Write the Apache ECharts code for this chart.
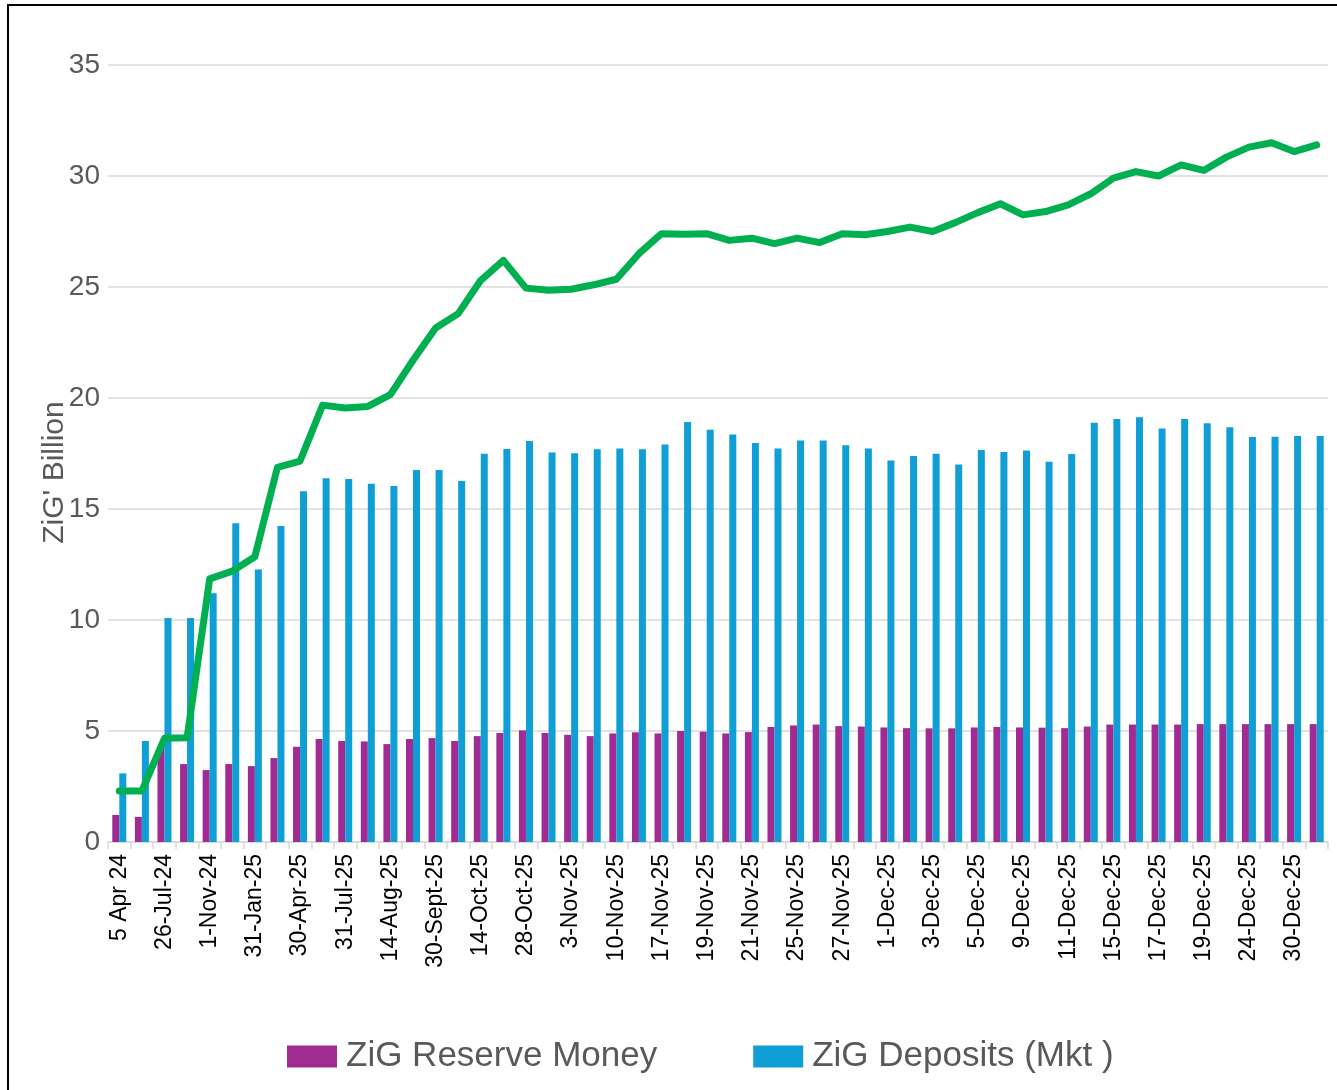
<!DOCTYPE html>
<html>
<head>
<meta charset="utf-8">
<title>ZiG Reserve Money and Deposits</title>
<script src="https://cdn.jsdelivr.net/npm/echarts@6/dist/echarts.min.js"></script>
<style>
  html, body { margin: 0; padding: 0; background: #fff; overflow: hidden; }
  #frame { position: absolute; left: 7px; top: 4px; width: 1340px; height: 1100px; border: 2px solid #000; box-sizing: border-box; }
  #chart { position: absolute; left: 0; top: 0; width: 1337px; height: 1090px; }
</style>
</head>
<body>
<div id="frame"></div>
<div id="chart"></div>
<script>
// dates on the category axis (only every second one is labelled in the source)
var dates = [
  '5 Apr 24', '28-Jun-24', '26-Jul-24', '27-Sep-24', '1-Nov-24', '31-Dec-24',
  '31-Jan-25', '31-Mar-25', '30-Apr-25', '30-Jun-25', '31-Jul-25', '7-Aug-25',
  '14-Aug-25', '15-Sept-25', '30-Sept-25', '7-Oct-25', '14-Oct-25', '21-Oct-25',
  '28-Oct-25', '31-Oct-25', '3-Nov-25', '6-Nov-25', '10-Nov-25', '13-Nov-25',
  '17-Nov-25', '18-Nov-25', '19-Nov-25', '20-Nov-25', '21-Nov-25', '24-Nov-25',
  '25-Nov-25', '26-Nov-25', '27-Nov-25', '28-Nov-25', '1-Dec-25', '2-Dec-25',
  '3-Dec-25', '4-Dec-25', '5-Dec-25', '8-Dec-25', '9-Dec-25', '10-Dec-25',
  '11-Dec-25', '12-Dec-25', '15-Dec-25', '16-Dec-25', '17-Dec-25', '18-Dec-25',
  '19-Dec-25', '23-Dec-25', '24-Dec-25', '29-Dec-25', '30-Dec-25', '31-Dec-25'
]

var reserveMoney = [
  1.22, 1.13, 4.3, 3.51, 3.24, 3.51, 3.42, 3.78, 4.29, 4.64,
  4.55, 4.53, 4.41, 4.64, 4.68, 4.55, 4.77, 4.91, 5.03, 4.91,
  4.83, 4.77, 4.89, 4.94, 4.89, 5.0, 4.97, 4.89, 4.95, 5.18,
  5.25, 5.29, 5.22, 5.2, 5.16, 5.13, 5.12, 5.12, 5.16, 5.18,
  5.16, 5.15, 5.13, 5.2, 5.29, 5.29, 5.29, 5.29, 5.31, 5.31,
  5.31, 5.31, 5.31, 5.31
]

var deposits = [
  3.09, 4.55, 10.09, 10.09, 11.2, 14.36, 12.28, 14.23, 15.8, 16.38,
  16.35, 16.14, 16.04, 16.76, 16.76, 16.26, 17.49, 17.7, 18.06, 17.54,
  17.51, 17.69, 17.73, 17.69, 17.91, 18.92, 18.57, 18.36, 17.97, 17.73,
  18.09, 18.09, 17.87, 17.72, 17.19, 17.39, 17.49, 17.01, 17.66, 17.57,
  17.64, 17.13, 17.48, 18.89, 19.05, 19.13, 18.63, 19.05, 18.86, 18.68,
  18.24, 18.26, 18.29, 18.29
]

// green line, no legend entry in the source
var totalLine = [
  2.3, 2.3, 4.67, 4.7, 11.85, 12.2, 12.85, 16.88, 17.16, 19.68,
  19.55, 19.62, 20.15, 21.7, 23.15, 23.8, 25.3, 26.2, 24.95, 24.85,
  24.9, 25.1, 25.35, 26.5, 27.4, 27.38, 27.4, 27.1, 27.2, 26.95,
  27.2, 27.0, 27.4, 27.35, 27.5, 27.7, 27.5, 27.9, 28.35, 28.75,
  28.25, 28.4, 28.7, 29.2, 29.9, 30.2, 30.0, 30.5, 30.25, 30.85,
  31.3, 31.5, 31.1, 31.4
]

var chart = echarts.init(document.getElementById('chart'))

var option = {
  animation: false,
  grid: {
    left: 108,
    right: 9,
    top: 65,
    bottom: 248
  },
  legend: {
    data: ['ZiG Reserve Money', 'ZiG Deposits (Mkt )'],
    left: 282,
    top: 1034,
    itemWidth: 50,
    itemHeight: 22,
    itemGap: 96,
    icon: 'rect',
    textStyle: {
      fontFamily: 'Liberation Sans',
      fontSize: 35,
      color: '#595959',
      padding: [0, 0, 0, 4]
    }
  },
  xAxis: {
    type: 'category',
    data: dates,
    axisLine: {
      lineStyle: { color: '#d9d9d9', width: 1.5 }
    },
    axisTick: {
      show: true,
      interval: 0,
      length: 7,
      lineStyle: { color: '#d9d9d9', width: 1.5 }
    },
    axisLabel: {
      interval: 1,
      rotate: 90,
      margin: 12,
      color: '#000',
      fontFamily: 'Liberation Sans',
      fontSize: 23
    }
  },
  yAxis: {
    type: 'value',
    min: 0,
    max: 35,
    interval: 5,
    name: "ZiG' Billion",
    nameLocation: 'middle',
    nameGap: 38,
    nameMoveOverlap: false,
    nameTextStyle: {
      fontFamily: 'Liberation Sans',
      fontSize: 30,
      color: '#595959',
      padding: [0, 0, 0, -38]
    },
    axisLine: { show: false },
    axisTick: { show: false },
    axisLabel: {
      margin: 8,
      color: '#595959',
      fontFamily: 'Liberation Sans',
      fontSize: 28
    },
    splitLine: {
      lineStyle: { color: '#d9d9d9', width: 1.5 }
    }
  },
  series: [
    {
      name: 'ZiG Reserve Money',
      type: 'bar',
      data: reserveMoney,
      barWidth: 7,
      barGap: '0%',
      itemStyle: { color: '#A02B93' }
    },
    {
      name: 'ZiG Deposits (Mkt )',
      type: 'bar',
      data: deposits,
      barWidth: 7,
      barGap: '0%',
      itemStyle: { color: '#0F9ED5' }
    },
    {
      name: 'ZiG Total',
      type: 'line',
      data: totalLine,
      symbol: 'none',
      lineStyle: {
        color: '#00B050',
        width: 7,
        cap: 'round',
        join: 'round'
      },
      z: 5
    }
  ]
}

chart.setOption(option)
</script>
</body>
</html>
